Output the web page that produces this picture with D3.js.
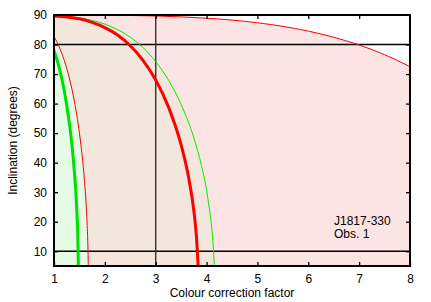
<!DOCTYPE html>
<html>
<head>
<meta charset="utf-8">
<script src="https://cdn.jsdelivr.net/npm/d3@7"></script>
<style>
  body { margin: 0; background: #fff; }
  text { font-family: "Liberation Sans", Arial, Helvetica, sans-serif; }
</style>
</head>
<body>
<div id="chart"></div>
<script>
// Colour correction factor vs inclination
const xTicks = [1, 2, 3, 4, 5, 6, 7, 8];
const yTicks = [10, 20, 30, 40, 50, 60, 70, 80, 90];

// thick green (best value, green set)
const greenBest = [[1, 78.0], [1.1, 72.3], [1.2, 64.5], [1.3, 53.6], [1.35, 46.5], [1.4, 37.0], [1.43, 30.0], [1.45, 23.2], [1.47, 13.9], [1.48, 4.0]];
// thin green (upper bound, green set)
const greenHigh = [[1, 89.8], [1.5, 89.0], [2, 86.9], [2.5, 82.5], [2.75, 79.0], [3, 74.2], [3.25, 68.0], [3.5, 59.7], [3.75, 48.4], [3.9, 39.0], [4, 30.7], [4.05, 25.0], [4.1, 18.3], [4.13, 12.0], [4.16, 3.0]];
// thin red (lower bound, red set)
const redLow = [[1, 82.7], [1.1, 79.3], [1.2, 74.7], [1.3, 68.7], [1.4, 60.8], [1.5, 50.0], [1.55, 42.9], [1.6, 33.7], [1.63, 26.3], [1.65, 19.7], [1.66, 15.4], [1.672, 7.0], [1.676, 2.0]];
// thick red (best value, red set)
const redBest = [[1, 89.7], [1.25, 89.35], [1.5, 88.7], [1.75, 87.5], [2, 85.75], [2.25, 83.2], [2.5, 79.6], [2.75, 74.65], [3, 68.0], [3.25, 58.9], [3.5, 46.0], [3.65, 34.7], [3.75, 23.7], [3.8, 15.1], [3.84, 3.0]];
// thin red (upper bound, red set)
const redHigh = [[1, 90.0], [2, 89.93], [3, 89.66], [4, 88.92], [4.5, 88.28], [5, 87.37], [5.5, 86.15], [6, 84.54], [6.5, 82.47], [7, 79.85], [7.5, 76.57], [8, 72.5]];

const labelLines = ["J1817-330", "Obs. 1"];
const refH = [80, 10];
const refV = [3];

const width = 431, height = 302;
const margin = {top: 15, right: 21, bottom: 36, left: 54};
const W = width - margin.left - margin.right;
const H = height - margin.top - margin.bottom;

const svg = d3.select('#chart').append('svg')
  .attr('width', width)
  .attr('height', height);

const g = svg.append('g').attr('transform', `translate(${margin.left},${margin.top})`);

const x = d3.scaleLinear().domain([1, 8]).range([0, W]);
const y = d3.scaleLinear().domain([5, 90]).range([H, 0]);

svg.append('defs').append('clipPath').attr('id', 'plot')
  .append('rect').attr('width', W).attr('height', H);

const plot = g.append('g').attr('clip-path', 'url(#plot)');

// filled bands, layered: red band, overlap, green-only
const area = d3.area()
  .x(d => x(d[0]))
  .y0(H + 5)
  .y1(d => y(d[1]))
  .curve(d3.curveMonotoneX);

plot.append('path').datum([[0.9, 90.2], ...redHigh, [8.2, 71]]).attr('d', area).attr('fill', '#fde4e4');
plot.append('path').datum(greenHigh).attr('d', area).attr('fill', '#f3e6dc');
plot.append('path').datum(redLow).attr('d', area).attr('fill', '#e6fbe6');

// reference lines
refH.forEach(v => {
  plot.append('line')
    .attr('x1', 0).attr('x2', W)
    .attr('y1', y(v)).attr('y2', y(v))
    .attr('stroke', '#000').attr('stroke-width', 1.4);
});
refV.forEach(v => {
  plot.append('line')
    .attr('x1', x(v)).attr('x2', x(v))
    .attr('y1', 0).attr('y2', H)
    .attr('stroke', '#333').attr('stroke-width', 1.4);
});

const line = d3.line()
  .x(d => x(d[0]))
  .y(d => y(d[1]))
  .curve(d3.curveMonotoneX);

const curves = [
  {data: redHigh, color: '#ff0000', w: 1},
  {data: redLow, color: '#ff0000', w: 1},
  {data: greenHigh, color: '#00ee00', w: 1},
  {data: redBest, color: '#ff0000', w: 3},
  {data: greenBest, color: '#00e000', w: 3}
];
curves.forEach(c => {
  plot.append('path').datum(c.data)
    .attr('d', line)
    .attr('fill', 'none')
    .attr('stroke', c.color)
    .attr('stroke-width', c.w);
});

// axes, ticks pointing inwards
const fontSize = '12px';
const axBottom = g.append('g').attr('transform', `translate(0,${H})`)
  .call(d3.axisBottom(x).tickValues(xTicks).tickSizeInner(-4).tickSizeOuter(0).tickPadding(8).tickFormat(d3.format('d')));
const axLeft = g.append('g')
  .call(d3.axisLeft(y).tickValues(yTicks).tickSizeInner(-4).tickSizeOuter(0).tickPadding(7).tickFormat(d3.format('d')));
const axTop = g.append('g')
  .call(d3.axisTop(x).tickValues(xTicks.slice(1, -1)).tickSizeInner(-4).tickSizeOuter(0).tickFormat(''));
const axRight = g.append('g').attr('transform', `translate(${W},0)`)
  .call(d3.axisRight(y).tickValues(yTicks.slice(0, -1)).tickSizeInner(-4).tickSizeOuter(0).tickFormat(''));

[axBottom, axLeft, axTop, axRight].forEach(a => {
  a.select('.domain').remove();
  a.selectAll('line').attr('stroke', '#000').attr('stroke-width', 1.3);
  a.selectAll('text').attr('font-size', fontSize).attr('fill', '#000');
});

// frame
g.append('rect')
  .attr('width', W).attr('height', H)
  .attr('fill', 'none').attr('stroke', '#000').attr('stroke-width', 2);

// axis titles
svg.append('text')
  .attr('x', margin.left + W / 2).attr('y', 297)
  .attr('text-anchor', 'middle').attr('font-size', fontSize)
  .text('Colour correction factor');

svg.append('text')
  .attr('transform', `translate(17,${margin.top + H / 2}) rotate(-90)`)
  .attr('text-anchor', 'middle').attr('font-size', fontSize)
  .text('Inclination (degrees)');

// annotation, one text per line
labelLines.forEach((t, i) => {
  svg.append('text')
    .attr('font-size', fontSize)
    .attr('x', 334).attr('y', 225 + i * 12.5)
    .text(t);
});
</script>
</body>
</html>
